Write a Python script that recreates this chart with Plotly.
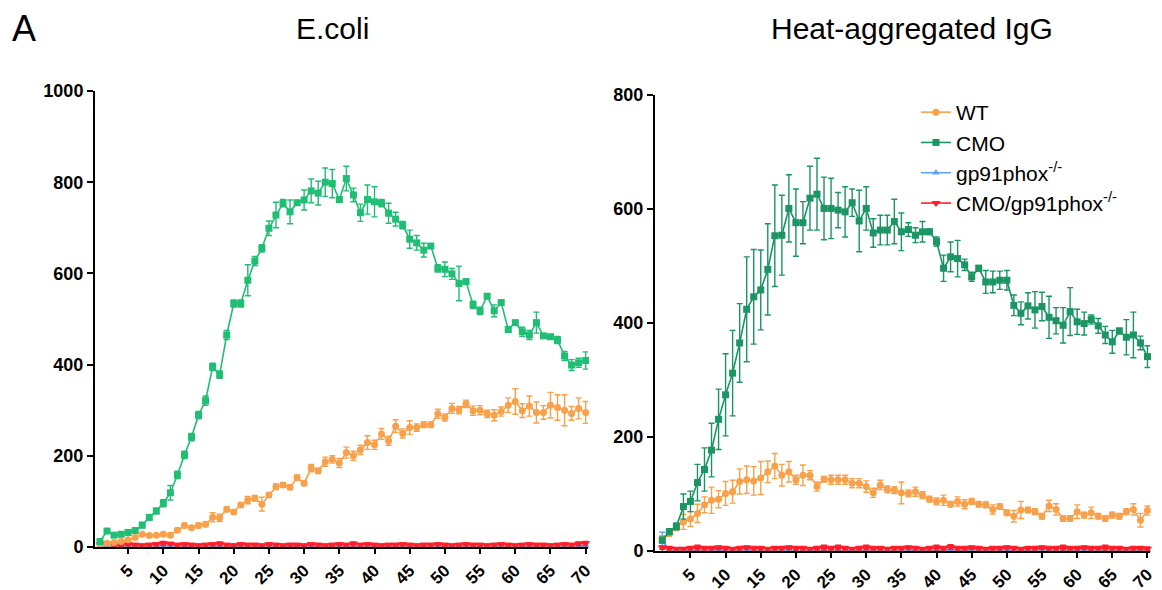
import plotly.graph_objects as go

# ---------------- data ----------------
time_points = list(range(1, 71))
x_ticks = [5, 10, 15, 20, 25, 30, 35, 40, 45, 50, 55, 60, 65, 70]

# E.coli panel
ecoli_wt = [5, 8, 10, 12, 16, 21, 28, 25, 26, 28, 26, 37, 47, 42, 47, 50, 65, 64, 83, 77,
            92, 103, 107, 94, 114, 132, 136, 131, 152, 140, 173, 167, 187, 192, 184, 207, 200, 213, 229, 224,
            248, 233, 265, 249, 262, 262, 268, 268, 292, 284, 304, 300, 314, 299, 300, 292, 289, 297, 311, 319,
            299, 309, 295, 295, 311, 306, 300, 293, 304, 295]
ecoli_wt_err = [3, 3, 3, 3, 3, 3, 3, 3, 3, 4, 4, 4, 5, 4, 5, 5, 10, 8, 5, 5,
                5, 8, 6, 15, 5, 6, 5, 5, 6, 5, 8, 6, 10, 8, 10, 12, 10, 10, 15, 10,
                12, 10, 14, 10, 15, 8, 6, 6, 10, 8, 11, 8, 8, 10, 10, 8, 12, 10, 16, 28,
                15, 22, 23, 15, 28, 28, 34, 15, 23, 24]
ecoli_cmo = [12, 35, 26, 28, 32, 36, 48, 65, 79, 96, 119, 158, 202, 241, 289, 321, 395, 378, 465, 534,
             534, 585, 627, 655, 699, 728, 754, 735, 755, 761, 781, 776, 800, 797, 762, 808, 772, 733, 762, 757,
             754, 732, 719, 706, 675, 667, 651, 660, 611, 609, 599, 578, 582, 531, 518, 550, 518, 536, 477, 492,
             472, 465, 492, 463, 461, 454, 419, 399, 404, 409]
ecoli_cmo_err = [4, 5, 5, 5, 5, 5, 6, 6, 6, 8, 16, 8, 8, 8, 8, 10, 8, 8, 10, 8,
                 8, 34, 10, 8, 16, 28, 8, 26, 5, 22, 26, 26, 31, 31, 5, 27, 15, 19, 32, 33,
                 8, 22, 15, 8, 20, 16, 15, 5, 8, 16, 12, 38, 5, 8, 8, 5, 13, 5, 5, 5,
                 10, 10, 23, 5, 5, 8, 10, 12, 10, 19]
ecoli_gp91 = [2, 1, 0, 1, 2, 1, 1, 2, 1, 2, 1, 1, 2, 1, 0, 1, 2, 1, 1, 2,
              1, 2, 1, 1, 2, 1, 0, 1, 2, 1, 1, 2, 1, 1, 2, 1, 1, 2, 1, 1,
              2, 1, 1, 0, 1, 2, 1, 1, 2, 1, 1, 2, 1, 1, 2, 1, 1, 2, 1, 0,
              1, 2, 1, 1, 2, 1, 1, 2, 1, 2]
ecoli_gp91_err = [2, 2, 3, 2, 2, 2, 2, 2, 2, 2, 2, 2, 2, 2, 3, 2, 2, 2, 2, 2,
                  2, 2, 2, 2, 2, 2, 3, 2, 2, 2, 2, 2, 2, 2, 2, 2, 2, 2, 2, 2,
                  2, 2, 2, 3, 2, 2, 2, 2, 2, 2, 2, 2, 2, 2, 2, 2, 2, 2, 2, 3,
                  2, 2, 2, 2, 2, 2, 2, 2, 2, 2]
ecoli_cmo_gp91 = [6, 7, 5, 4, 6, 5, 4, 5, 6, 8, 7, 5, 6, 5, 4, 5, 6, 7, 5, 4,
                  6, 5, 5, 4, 6, 5, 4, 5, 5, 4, 6, 5, 4, 5, 6, 5, 7, 5, 6, 5,
                  4, 5, 5, 6, 5, 4, 5, 5, 6, 5, 4, 5, 6, 5, 5, 4, 5, 6, 5, 4,
                  5, 6, 5, 5, 4, 5, 6, 5, 7, 8]
ecoli_cmo_gp91_err = [3, 3, 3, 2, 3, 3, 2, 3, 3, 4, 3, 3, 3, 3, 2, 3, 3, 4, 3, 2,
                      3, 3, 3, 2, 3, 3, 2, 3, 3, 2, 3, 3, 2, 3, 3, 3, 4, 3, 3, 3,
                      2, 3, 3, 3, 3, 2, 3, 3, 3, 3, 2, 3, 3, 3, 3, 2, 3, 3, 3, 2,
                      3, 3, 3, 3, 2, 3, 3, 3, 4, 4]

# Heat-aggregated IgG panel
igg_wt = [22, 31, 42, 51, 56, 66, 81, 89, 91, 101, 104, 122, 125, 123, 128, 139, 149, 133, 139, 125,
          133, 133, 113, 126, 125, 125, 125, 119, 119, 113, 102, 116, 108, 107, 102, 101, 104, 98, 91, 87,
          89, 82, 87, 82, 87, 82, 81, 73, 78, 67, 61, 72, 72, 69, 61, 79, 73, 57, 57, 69,
          63, 67, 61, 57, 63, 61, 69, 73, 54, 71]
igg_wt_err = [5, 5, 6, 13, 13, 16, 14, 23, 15, 21, 20, 22, 24, 25, 29, 19, 22, 19, 18, 8,
              18, 8, 8, 5, 8, 8, 8, 8, 8, 10, 8, 8, 6, 6, 19, 6, 8, 6, 5, 6,
              9, 5, 8, 8, 5, 5, 5, 8, 5, 5, 10, 15, 5, 5, 5, 10, 10, 5, 5, 12,
              5, 10, 5, 5, 5, 5, 5, 10, 12, 8]
igg_cmo = [19, 34, 43, 78, 87, 120, 143, 177, 231, 274, 312, 365, 424, 446, 458, 494, 553, 554, 601, 576,
           576, 619, 626, 601, 601, 598, 595, 611, 579, 601, 558, 563, 563, 578, 560, 564, 554, 560, 560, 543,
           496, 516, 513, 502, 481, 496, 472, 472, 475, 475, 431, 417, 430, 423, 429, 410, 404, 396, 420, 402,
           399, 406, 395, 379, 367, 386, 375, 379, 365, 341]
igg_cmo_err = [5, 5, 6, 22, 18, 32, 38, 47, 53, 72, 75, 69, 92, 83, 70, 80, 89, 70, 59, 59,
               37, 56, 63, 55, 53, 31, 44, 24, 54, 38, 25, 26, 26, 39, 33, 12, 13, 18, 5, 8,
               23, 26, 32, 10, 8, 5, 20, 19, 16, 17, 18, 20, 23, 32, 25, 37, 23, 31, 42, 22,
               20, 8, 13, 15, 20, 5, 31, 40, 12, 19]
igg_gp91 = [18, 2, 1, 2, 1, 1, 2, 1, 1, 2, 1, 2, 1, 1, 2, 1, 1, 2, 1, 1,
            2, 1, 1, 2, 1, 1, 2, 1, 1, 2, 1, 1, 2, 1, 1, 2, 1, 1, 2, 1,
            1, 3, 1, 1, 2, 1, 1, 2, 1, 1, 2, 1, 1, 2, 1, 1, 2, 1, 1, 2,
            1, 1, 2, 1, 1, 2, 1, 1, 2, 1]
igg_gp91_err = [15, 3, 2, 2, 2, 2, 2, 2, 2, 2, 2, 2, 2, 2, 2, 2, 2, 2, 2, 2,
                3, 2, 2, 2, 2, 2, 2, 2, 2, 2, 2, 2, 2, 2, 2, 2, 2, 2, 2, 2,
                2, 3, 2, 2, 2, 2, 2, 2, 2, 2, 2, 2, 2, 2, 2, 2, 2, 2, 2, 2,
                2, 2, 2, 2, 2, 2, 2, 2, 2, 2]
igg_cmo_gp91 = [6, 5, 4, 4, 5, 6, 5, 5, 6, 5, 4, 5, 6, 5, 5, 4, 5, 5, 6, 5,
                5, 4, 5, 6, 5, 6, 5, 4, 5, 6, 5, 5, 4, 5, 5, 6, 5, 4, 5, 6,
                5, 7, 5, 5, 6, 5, 4, 5, 5, 6, 5, 4, 5, 5, 6, 5, 5, 6, 5, 5,
                6, 5, 5, 6, 5, 5, 4, 5, 5, 4]
igg_cmo_gp91_err = [3, 3, 2, 2, 3, 4, 3, 3, 3, 3, 2, 3, 3, 3, 3, 2, 3, 3, 3, 3,
                    3, 2, 3, 4, 3, 4, 3, 2, 3, 4, 3, 3, 2, 3, 3, 3, 3, 2, 3, 4,
                    3, 4, 3, 3, 3, 3, 2, 3, 3, 3, 3, 2, 3, 3, 3, 3, 3, 4, 3, 3,
                    3, 3, 3, 4, 3, 3, 2, 3, 3, 3]

series_names = ["WT", "CMO", "gp91phox<sup>-/-</sup>", "CMO/gp91phox<sup>-/-</sup>"]
panel_titles = ["E.coli", "Heat-aggregated IgG"]

# ---------------- styling ----------------
C_WT = "#F9A14A"
C_CMO_L = "#1FBE74"
C_CMO_R = "#1A9563"
C_GP = "#5EA6F2"
C_RED = "#FF1E2A"
FONT = "Liberation Sans, Arial, sans-serif"

fig = go.Figure()


def add(x, y, err, color, symbol, size, name, xa, ya, show, rank):
    fig.add_trace(go.Scatter(
        x=x, y=y, mode="lines+markers", name=name,
        line=dict(color=color, width=1.6),
        marker=dict(symbol=symbol, size=size, color=color),
        error_y=dict(type="data", array=err, visible=True, color=color, thickness=1.4, width=3),
        xaxis=xa, yaxis=ya, showlegend=show, legendrank=rank, cliponaxis=False,
    ))


# left panel
add(time_points, ecoli_gp91, ecoli_gp91_err, C_GP, "triangle-up", 7, series_names[2], "x", "y", False, 3)
add(time_points, ecoli_cmo_gp91, ecoli_cmo_gp91_err, C_RED, "triangle-down", 8, series_names[3], "x", "y", False, 4)
add(time_points, ecoli_wt, ecoli_wt_err, C_WT, "circle", 7, series_names[0], "x", "y", False, 1)
add(time_points, ecoli_cmo, ecoli_cmo_err, C_CMO_L, "square", 7, series_names[1], "x", "y", False, 2)
# right panel
add(time_points, igg_gp91, igg_gp91_err, C_GP, "triangle-up", 7, series_names[2], "x2", "y2", True, 3)
add(time_points, igg_cmo_gp91, igg_cmo_gp91_err, C_RED, "triangle-down", 8, series_names[3], "x2", "y2", True, 4)
add(time_points, igg_wt, igg_wt_err, C_WT, "circle", 7, series_names[0], "x2", "y2", True, 1)
add(time_points, igg_cmo, igg_cmo_err, C_CMO_R, "square", 7, series_names[1], "x2", "y2", True, 2)

W, H = 1162, 590
ytickfont = dict(family=FONT, size=18, color="black", weight="bold")
xtickfont = dict(family=FONT, size=17, color="black", weight="bold")


def xaxis(domain, rng):
    return dict(domain=domain, range=rng, tickvals=x_ticks, tickangle=-45,
                ticks="outside", ticklen=5, tickwidth=2, tickcolor="black",
                showline=True, linewidth=2, linecolor="black", showgrid=False,
                zeroline=False, tickfont=xtickfont, fixedrange=True, automargin=False)


def yaxis(domain, rng, dtick, anchor):
    return dict(domain=domain, range=rng, dtick=dtick, anchor=anchor,
                ticks="outside", ticklen=6, tickwidth=2, tickcolor="black",
                showline=True, linewidth=2, linecolor="black", showgrid=False,
                zeroline=False, tickfont=ytickfont, fixedrange=True, automargin=False)


fig.update_layout(
    width=W, height=H,
    margin=dict(l=0, r=0, t=0, b=0, autoexpand=False),
    paper_bgcolor="white", plot_bgcolor="white",
    font=dict(family=FONT, color="black"),
    xaxis=xaxis([95 / W, 588 / W], [0.29, 70.33]) | dict(anchor="y"),
    yaxis=yaxis([1 - 547 / H, 1 - 91 / H], [0, 1000], 200, "x"),
    xaxis2=xaxis([655 / W, 1150 / W], [-0.04, 70.36]) | dict(anchor="y2"),
    yaxis2=yaxis([1 - 551 / H, 1 - 95 / H], [0, 800], 200, "x2"),
    legend=dict(x=916 / W, y=1 - 92 / H, xanchor="left", yanchor="top",
                font=dict(family=FONT, size=21, color="black"),
                bgcolor="rgba(0,0,0,0)", tracegroupgap=0, itemwidth=30),
    annotations=[
        dict(text="A", x=10 / W, y=1 - 28 / H, xref="paper", yref="paper",
             xanchor="left", yanchor="middle", showarrow=False,
             font=dict(family=FONT, size=36, color="black")),
        dict(text=panel_titles[0], x=332 / W, y=1 - 28 / H, xref="paper", yref="paper",
             xanchor="center", yanchor="middle", showarrow=False,
             font=dict(family=FONT, size=30, color="black")),
        dict(text=panel_titles[1], x=912 / W, y=1 - 28 / H, xref="paper", yref="paper",
             xanchor="center", yanchor="middle", showarrow=False,
             font=dict(family=FONT, size=30, color="black")),
    ],
)

fig.write_html(
    "out.html",
    config={"displayModeBar": False, "staticPlot": False},
    post_script="document.body.style.margin='0';document.body.style.overflow='hidden';",
)
